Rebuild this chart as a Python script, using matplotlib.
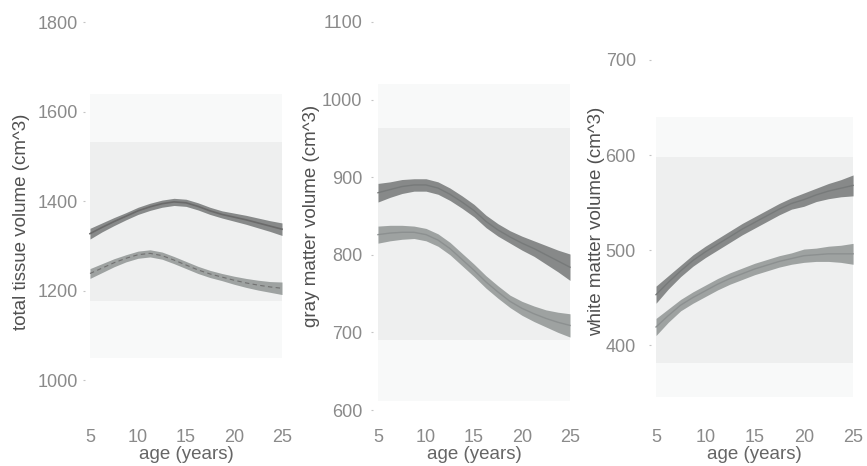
import matplotlib
matplotlib.use("Agg")
import matplotlib.pyplot as plt
import numpy as np

plt.rcParams['font.family'] = ['Liberation Sans', 'DejaVu Sans']

# ---- data ----
ages = [5, 6.25, 7.5, 8.75, 10, 11.25, 12.5, 13.75, 15,
        16.25, 17.5, 18.75, 20, 21.25, 22.5, 23.75, 25]

total_upper = [1327, 1341, 1354, 1366, 1378, 1387, 1394, 1398, 1396,
               1388, 1378, 1370, 1364, 1358, 1351, 1344, 1337]
total_lower = [1238, 1250, 1262, 1272, 1280, 1283, 1278, 1268, 1257,
               1246, 1237, 1230, 1223, 1217, 1212, 1208, 1205]
total_upper_hw = [12, 10, 9, 8, 8, 8, 8, 8, 8, 8, 8, 8, 9, 10, 11, 12, 14]
total_lower_hw = [11, 10, 9, 8, 8, 8, 8, 8, 8, 8, 8, 8, 9, 10, 11, 12, 14]

gray_upper = [880, 884, 888, 890, 890, 886, 878, 868, 857,
              843, 832, 823, 815, 808, 800, 792, 784]
gray_lower = [826, 828, 829, 829, 826, 819, 808, 794, 780,
              765, 752, 740, 731, 724, 718, 713, 709]
gray_upper_hw = [12, 10, 9, 8, 8, 8, 8, 8, 8, 8, 8, 8, 9, 10, 12, 14, 17]
gray_lower_hw = [11, 10, 9, 8, 8, 8, 8, 8, 8, 8, 8, 8, 9, 10, 11, 13, 15]

white_upper = [453, 466, 478, 489, 498, 506, 514, 522, 529,
               536, 543, 549, 553, 558, 562, 565, 568]
white_lower = [419, 431, 442, 450, 457, 464, 470, 475, 480,
               484, 488, 491, 494, 495, 496, 496, 496]
white_upper_hw = [9, 7, 6, 6, 6, 6, 6, 6, 6, 6, 6, 6, 7, 7, 8, 9, 11]
white_lower_hw = [9, 7, 6, 6, 6, 6, 6, 6, 6, 6, 6, 6, 7, 7, 8, 9, 11]

# extents of the (faded) scatter cloud: [low, high]
total_cloud_core = [1177, 1532]
total_cloud_outer = [1050, 1640]
gray_cloud_core = [690, 963]
gray_cloud_outer = [612, 1020]
white_cloud_core = [381, 598]
white_cloud_outer = [345, 640]

x_ticks = [5, 10, 15, 20, 25]
total_yticks = [1000, 1200, 1400, 1600, 1800]
gray_yticks = [600, 700, 800, 900, 1000, 1100]
white_yticks = [400, 500, 600, 700]

ylabels = ["total tissue volume (cm^3)", "gray matter volume (cm^3)",
           "white matter volume (cm^3)"]

# ---- figure ----
fig = plt.figure(figsize=(8.67, 4.66), dpi=100)
W, H = 867.0, 466.0
bottom = 48 / H
height = 404 / H
ax1 = fig.add_axes([85.2 / W, bottom, 201.6 / W, height])
ax2 = fig.add_axes([373.2 / W, bottom, 201.6 / W, height])
ax3 = fig.add_axes([651.1 / W, bottom, 206.9 / W, height])

panels = [
    (ax1, total_upper, total_upper_hw, total_lower, total_lower_hw,
     total_cloud_core, total_cloud_outer, total_yticks, (915.1, 1817.9), 5, (30, 222)),
    (ax2, gray_upper, gray_upper_hw, gray_lower, gray_lower_hw,
     gray_cloud_core, gray_cloud_outer, gray_yticks, (589.7, 1110.3), 8, (320, 216)),
    (ax3, white_upper, white_upper_hw, white_lower, white_lower_hw,
     white_cloud_core, white_cloud_outer, white_yticks, (323.2, 748.4), 11, (605, 221)),
]

for i, (ax, up, uhw, lo, lhw, core, outer, yt, ylim, ypad, lab) in enumerate(panels):
    a = np.array(ages)
    ax.fill_between([ages[0], ages[-1]], outer[0], outer[1],
                    color='#f8f9f9', lw=0, zorder=0)
    ax.fill_between([ages[0], ages[-1]], core[0], core[1],
                    color='#eeefef', lw=0, zorder=1)
    u = np.array(up); uh = np.array(uhw)
    l = np.array(lo); lh = np.array(lhw)
    ax.fill_between(a, u - uh, u + uh, color='#7e8181', lw=0, zorder=3, alpha=0.92)
    ax.fill_between(a, l - lh, l + lh, color='#979c9b', lw=0, zorder=3, alpha=0.92)
    if i == 0:
        ax.plot(a, u, color='#6a6a6a', lw=1.2, zorder=4)
        ax.plot(a, l, color='#707070', lw=0.8, zorder=4, ls=(0, (4, 3)))
    else:
        ax.plot(a, u, color='#777a7a', lw=1.0, zorder=4)
        ax.plot(a, l, color='#8c9090', lw=1.0, zorder=4)

    ax.set_xlim(4.5, 25.5)
    ax.set_ylim(*ylim)
    ax.set_xticks(x_ticks)
    ax.set_yticks(yt)
    for s in ax.spines.values():
        s.set_visible(False)
    ax.set_facecolor('white')
    ax.tick_params(axis='x', length=0, pad=8, labelsize=13, labelcolor='#8a8a8a')
    ax.tick_params(axis='y', length=1.5, width=0.8, color='#c4c4c4', pad=ypad - 1.5,
                   labelsize=13, labelcolor='#8a8a8a')
    ax.set_xlabel("age (years)", fontsize=13.5, color='#666666', labelpad=0)
    ax.set_ylabel(ylabels[i], fontsize=13.5, color='#505050')
    ax.yaxis.set_label_coords(lab[0] / W, 1 - lab[1] / H, transform=fig.transFigure)

fig.savefig("out.png", dpi=100, facecolor='white')
